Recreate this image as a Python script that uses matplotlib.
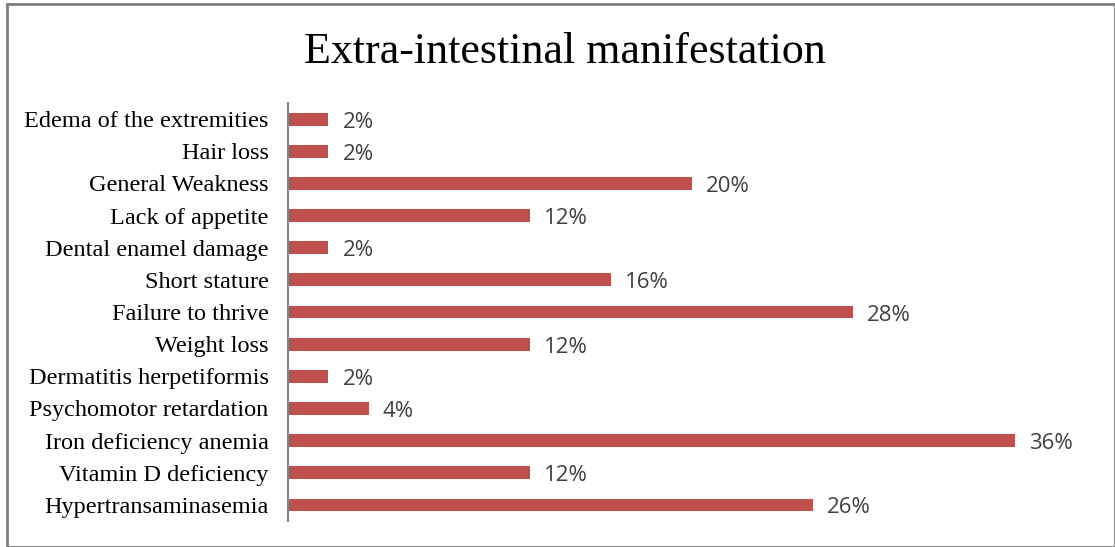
import matplotlib.pyplot as plt
from matplotlib.patches import Rectangle

categories = ['Hypertransaminasemia', 'Vitamin D deficiency', 'Iron deficiency anemia',
              'Psychomotor retardation', 'Dermatitis herpetiformis', 'Weight loss',
              'Failure to thrive', 'Short stature', 'Dental enamel damage',
              'Lack of appetite', 'General Weakness', 'Hair loss',
              'Edema of the extremities']
values = [26, 12, 36, 4, 2, 12, 28, 16, 2, 12, 20, 2, 2]
value_labels = [f'{v}%' for v in values]

fig = plt.figure(figsize=(11.15, 5.47), dpi=100)
ax = fig.add_axes([0.2583, 0.0475, 0.7243, 0.7642])

ax.barh(range(len(categories)), values, height=0.4, color='#C0504D')
for i, (v, lab) in enumerate(zip(values, value_labels)):
    ax.annotate(lab, (v, i), xytext=(14, -3), textcoords='offset pixels',
                va='center', ha='left', fontsize=16, family='Open Sans', color='#404040')

ax.set_xlim(0, 40)
ax.set_ylim(-0.5, len(categories) - 0.5)
ax.set_yticks(range(len(categories)))
ax.set_yticklabels(categories, family='Liberation Serif', fontsize=17.5)
ax.tick_params(axis='y', length=0, pad=14)
ax.set_xticks([])
for s in ['top', 'right', 'bottom']:
    ax.spines[s].set_visible(False)
ax.spines['left'].set_color('#868686')
ax.spines['left'].set_linewidth(1.5)

fig.text(0.507, 0.905, 'Extra-intestinal manifestation', ha='center', va='center',
         family='Liberation Serif', fontsize=31.7)

fig.patches.append(Rectangle((7 / 1115, 0), 1 - 7 / 1115, 1 - 4 / 547,
                             transform=fig.transFigure, fill=False,
                             edgecolor='#7f7f7f', linewidth=2))

fig.savefig('out.png', dpi=100)
